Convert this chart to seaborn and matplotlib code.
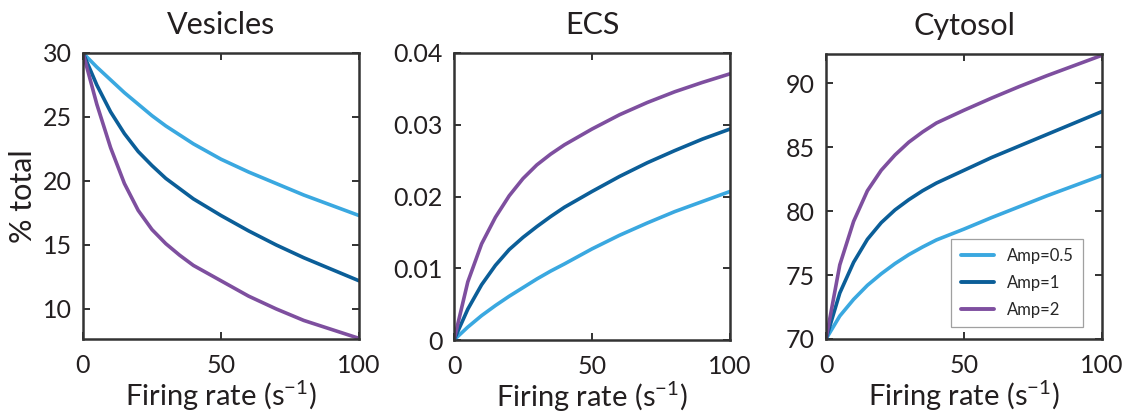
import numpy as np
import pandas as pd
import matplotlib
matplotlib.use("Agg")
import matplotlib.pyplot as plt
import seaborn as sns

# ---- data ----
rate = [0, 5, 10, 15, 20, 25, 30, 35, 40, 50, 60, 70, 80, 90, 100]
amps = ["Amp=0.5", "Amp=1", "Amp=2"]

ves_05 = [30, 28.9, 27.9, 26.9, 26.0, 25.1, 24.3, 23.6, 22.9, 21.7, 20.7, 19.8, 18.9, 18.1, 17.3]
ves_1 = [30, 27.5, 25.4, 23.7, 22.3, 21.2, 20.2, 19.4, 18.6, 17.3, 16.1, 15.0, 14.0, 13.1, 12.2]
ves_2 = [30, 26.0, 22.6, 19.8, 17.7, 16.2, 15.1, 14.2, 13.4, 12.2, 11.0, 10.0, 9.1, 8.4, 7.7]

ecs_05 = [0, 0.0018, 0.0034, 0.0048, 0.0061, 0.0073, 0.0085, 0.0096, 0.0106, 0.0127, 0.0146, 0.0163, 0.0179, 0.0193, 0.0207]
ecs_1 = [0, 0.0043, 0.0077, 0.0104, 0.0126, 0.0143, 0.0158, 0.0172, 0.0185, 0.0207, 0.0228, 0.0247, 0.0264, 0.0280, 0.0294]
ecs_2 = [0, 0.0081, 0.0134, 0.0171, 0.0201, 0.0225, 0.0244, 0.0259, 0.0272, 0.0294, 0.0314, 0.0331, 0.0346, 0.0359, 0.0371]

cyt_05 = [70, 71.8, 73.1, 74.2, 75.1, 75.9, 76.6, 77.2, 77.75, 78.6, 79.5, 80.35, 81.2, 82.0, 82.8]
cyt_1 = [70, 73.6, 76.0, 77.8, 79.1, 80.1, 80.9, 81.6, 82.2, 83.2, 84.2, 85.1, 86.0, 86.9, 87.8]
cyt_2 = [70, 75.8, 79.2, 81.6, 83.2, 84.4, 85.4, 86.2, 86.9, 87.9, 88.85, 89.75, 90.6, 91.4, 92.2]

titles = ["Vesicles", "ECS", "Cytosol"]
xticks = [0, 50, 100]
yticks_ves = [10, 15, 20, 25, 30]
yticks_ecs = [0, 0.01, 0.02, 0.03, 0.04]
ytick_labels_ecs = ["0", "0.01", "0.02", "0.03", "0.04"]
yticks_cyt = [70, 75, 80, 85, 90]
ylabel = "% total"
xlabel = "Firing rate (s$^{-1}$)"

colors = ["#3aa8e0", "#0b5e98", "#7e4f9f"]


def long_df(series):
    rows = []
    for name, vals in zip(amps, series):
        for x, y in zip(rate, vals):
            rows.append({"rate": x, "value": y, "Amp": name})
    return pd.DataFrame(rows)


sns.set_theme(style="white")
plt.rcParams["font.family"] = ["Lato", "DejaVu Sans"]
plt.rcParams["mathtext.default"] = "regular"

fig = plt.figure(figsize=(11.28, 4.2), dpi=100)
W, H = 1128, 420
boxes = [(83, 53, 359, 339), (454, 53, 730, 340), (826, 54, 1102, 339)]
axes = [fig.add_axes([l / W, 1 - b / H, (r - l) / W, (b - t) / H]) for (l, t, r, b) in boxes]

data = [(ves_05, ves_1, ves_2), (ecs_05, ecs_1, ecs_2), (cyt_05, cyt_1, cyt_2)]
ylims = [(7.65, 30), (0, 0.04), (70, 92.3)]
yticks = [yticks_ves, yticks_ecs, yticks_cyt]

for i, ax in enumerate(axes):
    df = long_df(data[i])
    sns.lineplot(data=df, x="rate", y="value", hue="Amp", palette=colors,
                 linewidth=2.6, ax=ax, legend=(i == 2))
    ax.set_xlim(0, 100)
    ax.set_ylim(*ylims[i])
    ax.set_xticks(xticks)
    ax.set_xticklabels([str(t) for t in xticks])
    ax.set_yticks(yticks[i])
    if i == 1:
        ax.set_yticklabels(ytick_labels_ecs)
    else:
        ax.set_yticklabels([str(t) for t in yticks[i]])
    ax.tick_params(direction="in", length=5, width=1.3, color="#222222",
                   top=True, right=True, bottom=True, left=True,
                   labelsize=18, pad=8, labelcolor="#231f20")
    ax.tick_params(axis="x", pad=11)
    for s in ax.spines.values():
        s.set_visible(True)
        s.set_color("#333333")
        s.set_linewidth(1.8)
    ax.set_title(titles[i], fontsize=22, color="#231f20", pad=14)
    ax.set_xlabel(xlabel, fontsize=21, color="#231f20", labelpad=1)
    ax.set_ylabel(ylabel if i == 0 else "", fontsize=22, color="#231f20", labelpad=4)

leg = axes[2].legend(loc="lower right", bbox_to_anchor=(0.932, 0.042), borderaxespad=0,
                     frameon=True, fancybox=False, edgecolor="#888888", fontsize=12,
                     handlelength=2.0, borderpad=0.55, labelspacing=0.65,
                     handletextpad=0.8, title=None)
leg.get_frame().set_linewidth(0.9)
for line in leg.get_lines():
    line.set_linewidth(2.8)

fig.savefig("out.png", dpi=100)
